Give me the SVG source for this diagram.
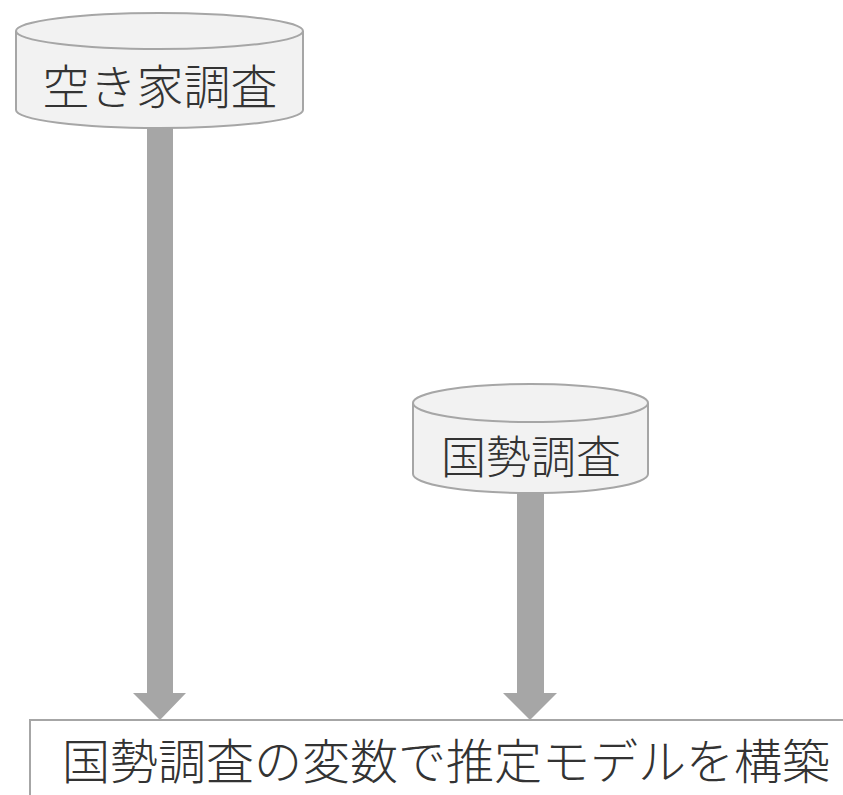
<svg xmlns="http://www.w3.org/2000/svg" width="843" height="795" viewBox="0 0 843 795">
<style>
.cyl{fill:#f2f2f2;stroke:#a6a6a6;stroke-width:2}
.arrow{fill:#a6a6a6;stroke:none}
.lbl{font-family:"Noto Sans CJK JP","Noto Sans",sans-serif;font-weight:300;fill:#333333;text-anchor:middle}
</style>
<rect width="843" height="795" fill="#ffffff"/>
<g id="connectors">
<path class="arrow" d="M147,128 H173 V693 H186 L160,720 L133,693 H147 Z"/>
<path class="arrow" d="M517,493 H544 V693 H557 L530,720 L503,693 H517 Z"/>
</g>
<g id="akiya">
<path class="cyl" d="M16,31 A143.5,18 0 0 1 303,31 V110 A143.5,18 0 0 1 16,110 Z"/>
<path class="cyl" fill="none" d="M16,31 A143.5,18 0 0 0 303,31"/>
<text class="lbl" x="160" y="104" font-size="47">空き家調査</text>
</g>
<g id="kokusei">
<path class="cyl" d="M413,403 A117.5,19 0 0 1 648,403 V474 A117.5,19 0 0 1 413,474 Z"/>
<path class="cyl" fill="none" d="M413,403 A117.5,19 0 0 0 648,403"/>
<text class="lbl" x="531" y="474" font-size="45">国勢調査</text>
</g>
<g id="model">
<rect x="30" y="720" width="900" height="120" fill="#ffffff" stroke="#a6a6a6" stroke-width="2"/>
<text class="lbl" x="446" y="779" font-size="48">国勢調査の変数で推定モデルを構築</text>
</g>
</svg>
